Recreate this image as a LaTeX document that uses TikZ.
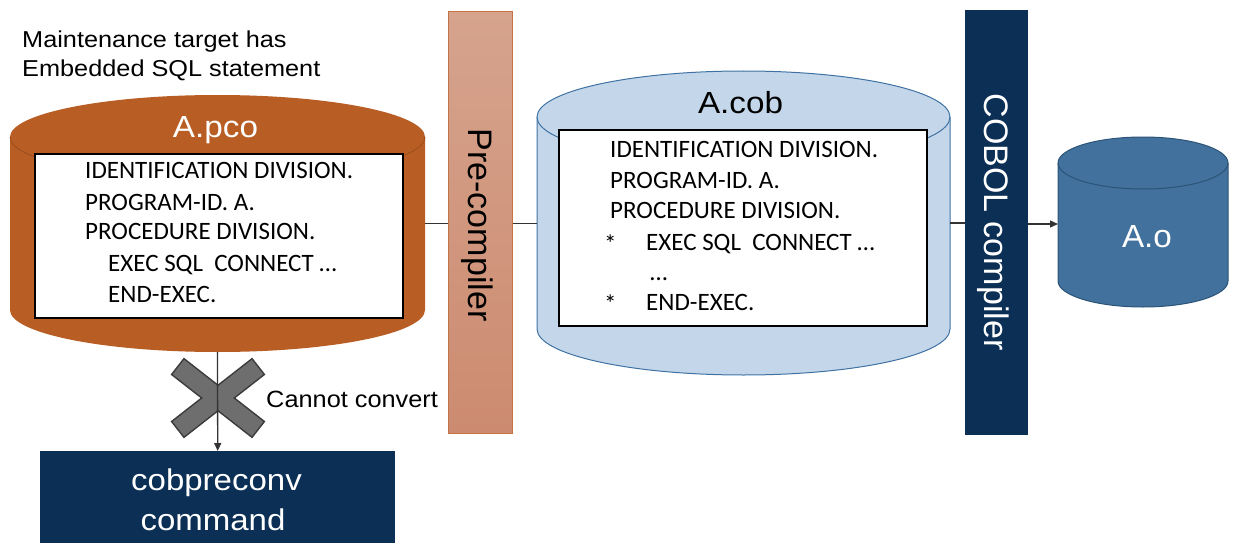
\documentclass[tikz,border=0pt]{standalone}
\usepackage{fontspec}
\setmainfont{Liberation Sans}
\newfontfamily\codefont{Carlito}
\usetikzlibrary{arrows.meta}
\definecolor{pcoOrange}{HTML}{B85E24}
\definecolor{pcoEdge}{HTML}{9A4C1B}
\definecolor{preTop}{HTML}{D6A38D}
\definecolor{preBot}{HTML}{CC8B70}
\definecolor{preEdge}{HTML}{C47443}
\definecolor{cobFill}{HTML}{C4D7EA}
\definecolor{cobEdge}{HTML}{3F72A3}
\definecolor{aoFill}{HTML}{41719C}
\definecolor{aoEdge}{HTML}{2C5478}
\definecolor{navy}{HTML}{0B2F55}
\definecolor{xgray}{HTML}{6E6E6E}
\definecolor{xedge}{HTML}{3C3C3C}
\definecolor{lineC}{HTML}{333333}
\begin{document}
\begin{tikzpicture}[x=1pt,y=-1pt,
  anchorbox/.style={rectangle,inner sep=0pt,outer sep=0pt,draw=none},
  lbl/.style={inner sep=0pt,font=\fontsize{23}{27}\selectfont,xscale=1.1},
  biglbl/.style={inner sep=0pt,font=\fontsize{30.5}{34}\selectfont,xscale=1.09},
  code/.style={inner sep=0pt,anchor=base west,font=\codefont\fontsize{25}{29}\selectfont},
  codebox/.style={rectangle,draw=black,line width=1.5pt,fill=white,inner sep=0pt,anchor=north west},
  barlbl/.style={inner sep=0pt,anchor=base,rotate=-90,font=\fontsize{34}{38}\selectfont},
  navybox/.style={rectangle,fill=navy,draw=none,inner sep=0pt,anchor=north west},
  conn/.style={draw=lineC,line width=1.3pt},
  tip/.style={-{Triangle[length=8pt,width=7pt]}},
  armout/.style={rectangle,draw=xedge,line width=1.5pt,fill=xgray,minimum width=102pt,minimum height=20pt,inner sep=0pt},
  armin/.style={rectangle,draw=none,fill=xgray,minimum width=100pt,minimum height=18pt,inner sep=0pt}
]
\useasboundingbox (0,0) rectangle (1237,543);
\clip (0,0) rectangle (1237,543);

% invisible anchor boxes of the cylinders
\node[anchorbox,minimum width=415pt,minimum height=257pt] (pco) at (217.5,223.5) {};
\node[anchorbox,minimum width=413pt,minimum height=304pt] (cob) at (743.5,223) {};
\node[anchorbox,minimum width=170pt,minimum height=170pt] (ao) at (1143,224) {};

% title
\node[lbl,anchor=base west] (t1) at (22,48) {Maintenance target has};
\node[lbl,anchor=base west] (t2) at (22,77) {Embedded SQL statement};

% A.pco cylinder
\fill[pcoOrange] (10,137) -- (10,310)
  arc[start angle=180,end angle=360,x radius=207.5pt,y radius=42pt] -- (425,137)
  arc[start angle=0,end angle=180,x radius=207.5pt,y radius=42pt] -- cycle;
\draw[pcoEdge,line width=0.8pt] (10,137) arc[start angle=180,end angle=360,x radius=207.5pt,y radius=42pt];
\node[biglbl,text=white,anchor=base] (pcot) at (215.5,137) {A.pco};
\node[codebox,minimum width=368pt,minimum height=164pt] (pcobox) at (34,153) {};
\node[code] (p1) at (85,178) {IDENTIFICATION DIVISION.};
\node[code] (p2) at (85,210) {PROGRAM-ID. A.};
\node[code] (p3) at (85,239) {PROCEDURE DIVISION.};
\node[code] (p4) at (108,271) {EXEC SQL\ \ CONNECT …};
\node[code] (p5) at (108,302) {END-EXEC.};

% Pre-compiler bar
\node[navybox,draw=preEdge,line width=1.2pt,top color=preTop,bottom color=preBot,minimum width=64pt,minimum height=422pt] (pre) at (448,11) {};
\node[barlbl] (pret) at (468,225) {Pre-compiler};

% A.cob cylinder
\filldraw[fill=cobFill,draw=cobEdge,line width=1pt] (537,117) -- (537,329)
  arc[start angle=180,end angle=360,x radius=206.5pt,y radius=46pt] -- (950,117)
  arc[start angle=0,end angle=180,x radius=206.5pt,y radius=46pt] -- cycle;
\draw[cobEdge,line width=1pt] (537,117) arc[start angle=180,end angle=360,x radius=206.5pt,y radius=46pt];
\node[biglbl,text=black,anchor=base] (cobt) at (740.5,113) {A.cob};
\node[codebox,minimum width=368pt,minimum height=196pt] (cobbox) at (558,129) {};
\node[code] (c1) at (610,157) {IDENTIFICATION DIVISION.};
\node[code] (c2) at (610,188) {PROGRAM-ID. A.};
\node[code] (c3) at (610,218) {PROCEDURE DIVISION.};
\node[code] (c4s) at (604,252) {*};
\node[code] (c4) at (646,250) {EXEC SQL\ \ CONNECT …};
\node[code] (c5) at (650,280) {…};
\node[code] (c6s) at (604,312) {*};
\node[code] (c6) at (646,310) {END-EXEC.};

% COBOL compiler bar
\node[navybox,minimum width=63pt,minimum height=425pt] (cbl) at (965,10) {};
\node[barlbl,text=white] (cblt) at (984,222) {COBOL compiler};

% A.o cylinder
\filldraw[fill=aoFill,draw=aoEdge,line width=1pt] (1058,163) -- (1058,281)
  arc[start angle=180,end angle=360,x radius=85pt,y radius=26pt] -- (1228,163)
  arc[start angle=0,end angle=180,x radius=85pt,y radius=26pt] -- cycle;
\draw[aoEdge,line width=1pt] (1058,163) arc[start angle=180,end angle=360,x radius=85pt,y radius=26pt];
\node[inner sep=0pt,anchor=base,text=white,font=\fontsize{32}{36}\selectfont,xscale=1.04] (aot) at (1147,247) {A.o};

% cobpreconv command box
\node[navybox,minimum width=355pt,minimum height=150pt] (cpc) at (40,451) {};
\node[lbl,text=white,anchor=base,font=\fontsize{30}{34}\selectfont] (cpc1) at (216.5,490) {cobpreconv};
\node[lbl,text=white,anchor=base,font=\fontsize{30}{34}\selectfont] (cpc2) at (213,530) {command};

% the cross
\node[armout,rotate=38] (xa) at (218,398) {};
\node[armout,rotate=-38] (xb) at (218,398) {};
\node[armin,rotate=38] (xc) at (218,398) {};
\node[armin,rotate=-38] (xd) at (218,398) {};
\node[lbl,anchor=base west,font=\fontsize{23.5}{27}\selectfont,xscale=0.98] (cc) at (266,407) {Cannot convert};

% connectors
\draw[conn] (pco.east) -- (pco.east -| pre.west);
\draw[conn] (pco.east -| pre.east) -- (pco.east -| cob.west);
\draw[conn] (cob.east) -- (cob.east -| cbl.west);
\draw[conn,tip] (ao.west -| cbl.east) -- (ao.west);
\draw[conn,tip] (pco.south) -- (cpc.north);
\end{tikzpicture}
\end{document}
